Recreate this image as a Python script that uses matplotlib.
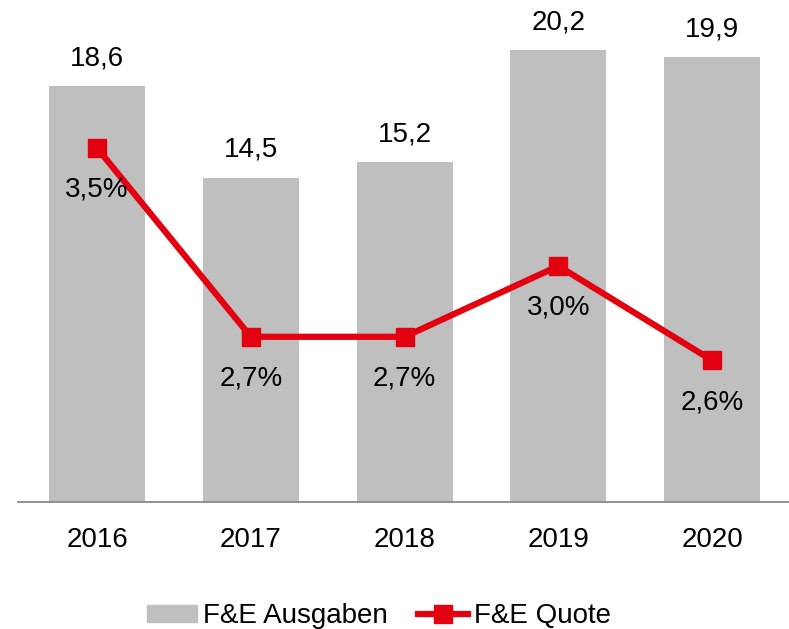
import matplotlib.pyplot as plt
from matplotlib.lines import Line2D
from matplotlib.patches import Patch

plt.rcParams["font.family"] = ["Liberation Sans", "DejaVu Sans"]

years = ["2016", "2017", "2018", "2019", "2020"]
ausgaben = [18.6, 14.5, 15.2, 20.2, 19.9]
quote = [3.5, 2.7, 2.7, 3.0, 2.6]

BAR_GREY = "#BFBFBF"
RED = "#E3000F"

fig = plt.figure(figsize=(7.89, 6.29), dpi=100)
ax = fig.add_axes([18 / 789, 1 - 502 / 629, 1 - 18 / 789, 502 / 629])
x = list(range(len(years)))

ax.bar(x, ausgaben, width=0.625, color=BAR_GREY, zorder=1)
ax.set_xlim(-0.514, 4.5)
ax.set_ylim(0, 22.44)
for xi, v in zip(x, ausgaben):
    ax.annotate(f"{v:.1f}".replace(".", ","), (xi, v), xytext=(0, 20),
                textcoords="offset points", ha="center", va="center",
                fontsize=20)

ax.set_xticks(x, years, fontsize=20)
ax.tick_params(axis="x", length=0, pad=18)
ax.set_yticks([])
for s in ["top", "right", "left"]:
    ax.spines[s].set_visible(False)
ax.spines["bottom"].set_color("#888888")
ax.spines["bottom"].set_linewidth(1.3)

ax2 = ax.twinx()
ax2.plot(x, quote, color=RED, lw=4.5, marker="s", ms=12.5, zorder=3)
ax2.set_ylim(2.0, 4.127)
ax2.set_yticks([])
for s in ["top", "right", "left", "bottom"]:
    ax2.spines[s].set_visible(False)
for xi, v in zip(x, quote):
    ax2.annotate(f"{v:.1f}%".replace(".", ","), (xi, v), xytext=(0, -30),
                 textcoords="offset points", ha="center", va="center",
                 fontsize=20)

handles = [Patch(color=BAR_GREY),
           Line2D([], [], color=RED, lw=4.5, marker="s", ms=12.5)]
fig.legend(handles, ["F&E Ausgaben", "F&E Quote"], loc="center",
           bbox_to_anchor=(379 / 789, 1 - 616 / 629), ncol=2, frameon=False,
           fontsize=20, handlelength=1.8, handleheight=0.55,
           handletextpad=0.2, columnspacing=1.1, borderpad=0)

fig.savefig("out.png", dpi=100)
